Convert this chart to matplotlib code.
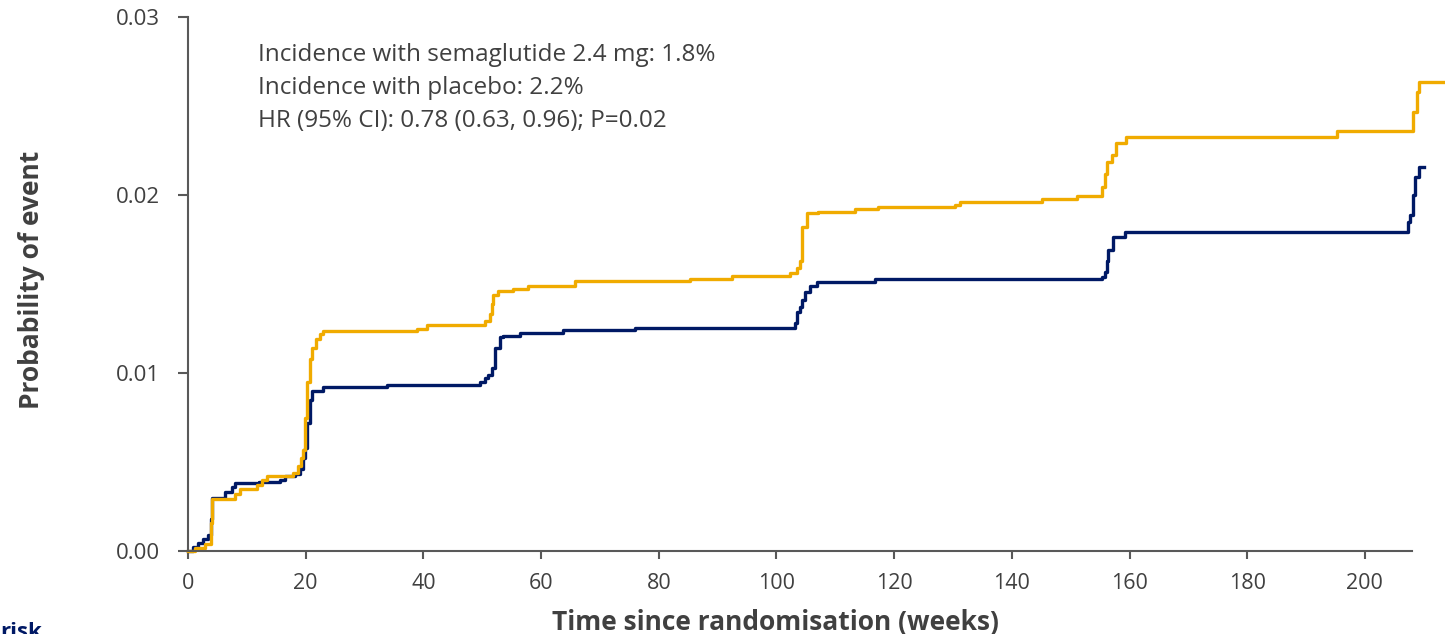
import matplotlib
matplotlib.use("Agg")
from matplotlib import pyplot as plt

# cumulative probability of event (weeks, probability)
placebo_weeks = [0, 1.2, 2.9, 3.9, 4.0, 8.0, 8.8, 11.7, 12.6, 13.4, 17.8, 18.7, 19.2, 19.5,
                 19.9, 20.2, 20.7, 21.1, 21.7, 22.4, 22.9, 38.9, 40.6, 50.5, 51.3, 51.7,
                 51.8, 52.7, 55.2, 57.8, 65.8, 85.3, 92.4, 102.3, 103.5, 104.0, 104.3,
                 105.2, 107.1, 113.3, 117.2, 130.3, 131.2, 145.1, 151.1, 155.3, 155.8,
                 156.2, 157.0, 157.7, 159.4, 195.2, 208.2, 208.9, 209.2, 213.6]
placebo_prob = [0, 0.00015, 0.0004, 0.0016, 0.0029, 0.0032, 0.0035, 0.0037, 0.0040, 0.0042,
                0.0044, 0.0048, 0.0052, 0.0057, 0.0075, 0.0095, 0.0108, 0.0114, 0.0119,
                0.0122, 0.01235, 0.0125, 0.0127, 0.0129, 0.0133, 0.0139, 0.0144, 0.0146,
                0.0147, 0.0149, 0.01517, 0.01528, 0.01545, 0.0156, 0.0159, 0.0163, 0.0182,
                0.0190, 0.01905, 0.0192, 0.01933, 0.01944, 0.0196, 0.01978, 0.01994,
                0.02045, 0.0212, 0.02185, 0.02225, 0.0229, 0.02326, 0.0236, 0.02466,
                0.0258, 0.02635, 0.02635]

sema_weeks = [0, 0.8, 1.7, 2.5, 3.4, 3.9, 4.1, 6.3, 7.5, 8.0, 12.0, 15.6, 16.5, 18.2, 19.0,
              19.5, 19.9, 20.2, 20.7, 21.1, 22.9, 33.8, 49.6, 50.5, 51.0, 51.7, 52.2, 53.0,
              53.5, 56.4, 63.7, 76.0, 103.1, 103.5, 104.0, 104.3, 104.8, 105.7, 106.9,
              116.7, 155.3, 155.8, 156.2, 156.3, 157.2, 159.2, 207.3, 207.6, 208.2, 208.5,
              209.2, 210.0]
sema_prob = [0, 0.0002, 0.00045, 0.0007, 0.0009, 0.0018, 0.0030, 0.0033, 0.0036, 0.0038,
             0.0039, 0.0040, 0.0042, 0.0043, 0.0046, 0.0052, 0.0058, 0.0072, 0.0085, 0.0090,
             0.0092, 0.0093, 0.0095, 0.0097, 0.0099, 0.0103, 0.0114, 0.0120, 0.0121, 0.01225,
             0.0124, 0.01253, 0.0128, 0.0134, 0.0137, 0.0141, 0.01455, 0.0149, 0.0151,
             0.01528, 0.0154, 0.01567, 0.0163, 0.0169, 0.01764, 0.0179, 0.0185, 0.0189,
             0.0200, 0.0210, 0.02157, 0.02157]

x_ticks = [0, 20, 40, 60, 80, 100, 120, 140, 160, 180, 200]
y_ticks = [0.00, 0.01, 0.02, 0.03]
summary_lines = ["Incidence with semaglutide 2.4 mg: 1.8%",
                 "Incidence with placebo: 2.2%",
                 "HR (95% CI): 0.78 (0.63, 0.96); P=0.02"]

NAVY = "#001965"
GOLD = "#F0AB00"
GREY = "#595959"
TEXT = "#404040"

plt.rcParams["font.family"] = ["Open Sans", "DejaVu Sans"]

fig = plt.figure(figsize=(14.45, 6.34), dpi=100)
ax = fig.add_axes([188 / 1445, 1 - 551 / 634, (1412 - 188) / 1445, (551 - 17) / 634])

ax.plot(sema_weeks, sema_prob, drawstyle="steps-post", color=NAVY, lw=2.4, clip_on=False)
ax.plot(placebo_weeks, placebo_prob, drawstyle="steps-post", color=GOLD, lw=2.4, clip_on=False)

ax.set_xlim(0, 208)
ax.set_ylim(0, 0.03)
ax.set_xticks(x_ticks)
ax.set_yticks(y_ticks)
ax.set_yticklabels([f"{v:.2f}" for v in y_ticks])

for side in ("top", "right"):
    ax.spines[side].set_visible(False)
for side in ("left", "bottom"):
    ax.spines[side].set_color(GREY)
    ax.spines[side].set_linewidth(1.5)

ax.tick_params(axis="y", direction="out", length=7.5, width=1.5, color=GREY,
               labelsize=16, labelcolor=TEXT, pad=13)
ax.tick_params(axis="x", direction="out", length=6, width=1.5, color=GREY,
               labelsize=15.5, labelcolor=TEXT, pad=10)

ax.set_xlabel("Time since randomisation (weeks)", fontsize=19, fontweight="bold",
              color=TEXT)
ax.xaxis.set_label_coords(0.48, -0.108)
ax.set_ylabel("Probability of event", fontsize=19, fontweight="bold", color=TEXT)
ax.yaxis.set_label_coords(-0.117, 0.508)

ax.text(0.057, 0.952, "\n".join(summary_lines), transform=ax.transAxes, fontsize=17.5,
        color=TEXT, va="top", ha="left", linespacing=1.5)

# partly visible "at risk" header at the bottom left
fig.text(0.0, 1 - 622 / 634, "risk", fontsize=16, fontweight="bold", color=NAVY,
         va="top", ha="left")

fig.savefig("out.png", dpi=100)
